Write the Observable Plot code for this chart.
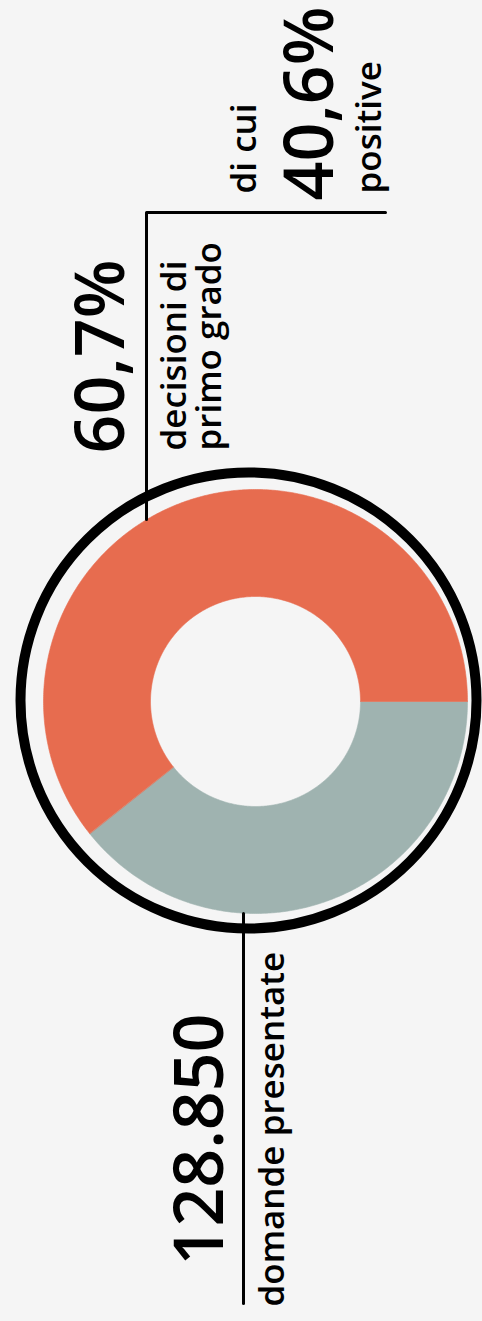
<!DOCTYPE html>
<html>
<head>
<meta charset="utf-8">
<script src="https://cdn.jsdelivr.net/npm/d3@7"></script>
<script src="https://cdn.jsdelivr.net/npm/@observablehq/plot@0.6"></script>
<style>
  html, body { margin: 0; padding: 0; background: #f5f5f5; }
  #chart svg { display: block; }
</style>
</head>
<body>
<div id="chart"></div>
<script>
// ---- data ----
const categories = ["altre", "decisioni di primo grado"];
const shares = [39.3, 60.7];               // percent of domande presentate
const sliceColors = ["#9fb3b0", "#e76c4f"];

const totalLabel = "128.850";
const totalCaption = "domande presentate";
const decisionLabel = "60,7%";
const decisionCaption = "decisioni di\nprimo grado";
const positivePrefix = "di cui";
const positiveLabel = "40,6%";
const positiveCaption = "positive";

// ---- layout (chart coordinate system = pixels) ----
const W = 482, H = 1321;
const donut = {cx: 255, cy: 701, rOuter: 212, rInner: 105};
const ring = {cx: 248, cy: 700, r: 228, width: 10};
const font = "'Open Sans', 'Noto Sans', sans-serif";

// build slice polygons from the shares (clockwise from 3 o'clock)
const total = d3.sum(shares);
const slicePoints = [];
let acc = 0;
categories.forEach((cat, i) => {
  const a0 = (acc / total) * 2 * Math.PI;
  acc += shares[i];
  const a1 = (acc / total) * 2 * Math.PI;
  const n = Math.max(2, Math.ceil((a1 - a0) / (Math.PI / 360)));
  for (let k = 0; k <= n; k++) {
    const t = a0 + (a1 - a0) * k / n;
    slicePoints.push({cat, x: donut.cx + donut.rOuter * Math.cos(t), y: donut.cy + donut.rOuter * Math.sin(t)});
  }
  for (let k = n; k >= 0; k--) {
    const t = a0 + (a1 - a0) * k / n;
    slicePoints.push({cat, x: donut.cx + donut.rInner * Math.cos(t), y: donut.cy + donut.rInner * Math.sin(t)});
  }
});

// leader lines
const leaderTop = [{x: 146, y: 519}, {x: 146, y: 212}, {x: 385, y: 212}];
const leaderBottom = [{x: 243, y: 913}, {x: 243, y: 1303}];

const bigTexts = [
  {text: totalLabel, x: 222, y: 1265},
  {text: decisionLabel, x: 123, y: 453},
  {text: positiveLabel, x: 332, y: 200}
];
const smallTexts = [
  {text: totalCaption, x: 283, y: 1306},
  {text: decisionCaption, x: 220, y: 450},
  {text: positivePrefix, x: 255, y: 193},
  {text: positiveCaption, x: 380, y: 193}
];

const chart = Plot.plot({
  width: W,
  height: H,
  margin: 0,
  style: {background: "#f5f5f5", color: "#000", fontFamily: font},
  x: {domain: [0, W], range: [0, W], axis: null},
  y: {domain: [0, H], range: [0, H], axis: null},
  color: {domain: categories, range: sliceColors},
  marks: [
    Plot.line(slicePoints, {x: "x", y: "y", z: "cat", fill: "cat", stroke: "cat", strokeWidth: 0.6, curve: "linear-closed"}),
    Plot.line(leaderTop, {x: "x", y: "y", stroke: "#000", strokeWidth: 3}),
    Plot.line(leaderBottom, {x: "x", y: "y", stroke: "#000", strokeWidth: 3}),
    Plot.dot([ring], {x: "cx", y: "cy", r: ring.r, stroke: "#000", strokeWidth: ring.width, fill: "none"}),
    Plot.text(bigTexts, {x: "x", y: "y", text: "text", rotate: -90, textAnchor: "start", lineAnchor: "bottom",
      fontSize: 68, fontWeight: 600, fontFamily: font, fill: "#000"}),
    Plot.text(smallTexts, {x: "x", y: "y", text: "text", rotate: -90, textAnchor: "start", lineAnchor: "bottom",
      fontSize: 35, fontWeight: 600, lineHeight: 1.0, fontFamily: font, fill: "#000"})
  ]
});
document.getElementById("chart").appendChild(chart);
</script>
</body>
</html>
